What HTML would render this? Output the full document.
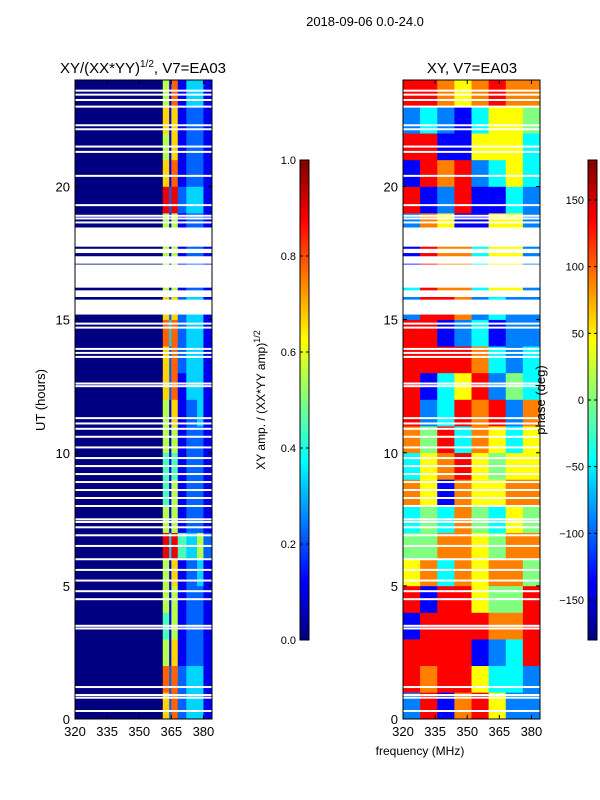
<!DOCTYPE html>
<html><head><meta charset="utf-8"><style>
html,body{margin:0;padding:0;background:#fff;}
svg{display:block;font-family:"Liberation Sans","DejaVu Sans",sans-serif;}
</style></head><body>
<svg id="fig" width="600" height="800" viewBox="0 0 600 800">
<text x="365" y="26" font-size="13" text-anchor="middle">2018-09-06 0.0-24.0</text>
<text x="143" y="73" font-size="15" text-anchor="middle">XY/(XX*YY)<tspan font-size="10" dy="-6">1/2</tspan><tspan dy="6">, V7=EA03</tspan></text>
<text x="472" y="73" font-size="15" text-anchor="middle">XY, V7=EA03</text>
<text transform="translate(45,400) rotate(-90)" font-size="13" text-anchor="middle">UT (hours)</text>
<text x="420" y="755" font-size="12" text-anchor="middle">frequency (MHz)</text>
<text transform="translate(265,400) rotate(-90)" font-size="12" text-anchor="middle">XY amp. / (XX*YY amp)<tspan font-size="9" dy="-5">1/2</tspan></text>
<g id="left"></g>
<g id="right"></g>
<g id="axes"></g>
<text transform="translate(545,400) rotate(-90)" font-size="13" text-anchor="middle">phase (deg)</text>
</svg>
<script>
// ---- data ----
const freqMin = 320, freqMax = 384, hourMin = 0, hourMax = 24;
const xTicks = [320, 335, 350, 365, 380];
const yTicks = [0, 5, 10, 15, 20];
const ampTicks = [0.0, 0.2, 0.4, 0.6, 0.8, 1.0];
const phaseTicks = [-150, -100, -50, 0, 50, 100, 150];
// left panel: non-uniform frequency bins, rows = hours 0..23, codes c -> c/9
const ampEdges = [320, 361, 364, 365, 368, 372, 377, 380, 384];
const ampRows = [
 "06272331","07272331","05161221","04151221","05151221","05161231","08384352","05151221",
 "04151221","04141221","05151221","05161231","06271331","06272331","07372331","06262331",
 "05151221","05151221","05151221","08282331","06171221","05161221","06161221","05171331"];
// right panel: 8 uniform bins, codes 0..8 -> -180..180
const phaseRows = [
 "27167522","76775332","77771237","17777667","71775447","56365664","44665466","34364354",
 "65165566","35675455","64736535","72376726","71357243","77776323","77123122","27762322",
 "37663552","17663552","26511552","71271132","17672353","77115553","23213554","77656766"];
const wideGaps = [[17.74,18.46],[17.5,17.66],[17.1,17.38],[16.2,17.07],[15.85,16.1],[15.19,15.75]];
const thinGaps = [23.6,23.45,23.25,23.0,22.3,22.15,21.5,21.3,20.4,19.3,18.9,18.8,18.65,
 14.85,14.7,13.9,13.75,13.6,12.6,12.5,11.3,11.1,10.9,10.6,10.2,9.8,9.5,9.2,8.9,8.6,8.3,8.0,7.5,7.4,
 7.2,6.9,6.5,6.0,5.6,5.2,4.8,4.5,3.5,3.4,1.2,0.9,0.8,0.3];

// ---- helpers ----
const NS = "http://www.w3.org/2000/svg";
const clamp = v => Math.max(0, Math.min(1, v));
function jet(x){const r=clamp(1.5-Math.abs(4*x-3)),g=clamp(1.5-Math.abs(4*x-2)),b=clamp(1.5-Math.abs(4*x-1));
 return `rgb(${Math.round(r*255)},${Math.round(g*255)},${Math.round(b*255)})`;}
const yTop = 80, yBot = 719;
const yScale = h => yBot - (h - hourMin) / (hourMax - hourMin) * (yBot - yTop);
function xScaleFor(x0, x1){ return f => x0 + (f - freqMin) / (freqMax - freqMin) * (x1 - x0); }
function mk(tag, attrs, parent){const e=document.createElementNS(NS,tag);for(const k in attrs)e.setAttribute(k,attrs[k]);parent.appendChild(e);return e;}

function drawPanel(g, x0, x1, edges, rows, toFrac){
 const xs = xScaleFor(x0, x1);
 rows.forEach((row, hi) => {
  for (let c = 0; c < edges.length - 1; c++){
   const v = toFrac(+row[c]);
   const r = mk('rect', {x: xs(edges[c]), y: yScale(hi+1), width: xs(edges[c+1]) - xs(edges[c]) + 0.3, height: yScale(hi) - yScale(hi+1) + 0.3, fill: jet(v)}, g);
   
   
  }
 });
 wideGaps.forEach(gp => {
  const r = mk('rect', {x: x0, y: yScale(gp[1]), width: x1 - x0, height: yScale(gp[0]) - yScale(gp[1]), fill: '#fff'}, g);
  
  
 });
 thinGaps.forEach(h => {
  const r = mk('rect', {x: x0, y: yScale(h) - 1, width: x1 - x0, height: 2, fill: '#fff'}, g);
  
  
 });
}
const ampEdgesUniform = [320,328,336,344,352,360,368,376,384];
drawPanel(document.getElementById('left'), 75, 212, ampEdges, ampRows, c => c / 9);
drawPanel(document.getElementById('right'), 403, 540, ampEdgesUniform, phaseRows, c => c / 8);

const ax = document.getElementById('axes');
function frame(x0, x1){
 const f = mk('rect', {x: x0, y: yTop, width: x1 - x0, height: yBot - yTop, fill: 'none', stroke: '#000', 'stroke-width': 1}, ax);
 
 
 const xs = xScaleFor(x0, x1);
 xTicks.forEach(t => {
  mk('line', {x1: xs(t), x2: xs(t), y1: yBot, y2: yBot - 4, stroke: '#000'}, ax);
  mk('line', {x1: xs(t), x2: xs(t), y1: yTop, y2: yTop + 4, stroke: '#000'}, ax);
  const tx = mk('text', {x: xs(t), y: yBot + 17, 'font-size': 13, 'text-anchor': 'middle'}, ax);
  tx.textContent = t;
  
  
 });
 yTicks.forEach(t => {
  mk('line', {x1: x0, x2: x0 + 4, y1: yScale(t), y2: yScale(t), stroke: '#000'}, ax);
  mk('line', {x1: x1, x2: x1 - 4, y1: yScale(t), y2: yScale(t), stroke: '#000'}, ax);
  const tx = mk('text', {x: x0 - 5, y: yScale(t) + 5, 'font-size': 13, 'text-anchor': 'end'}, ax);
  tx.textContent = t;
  
  
 });
}
frame(75, 212);
frame(403, 540);

function colorbar(x, ticks, vmin, vmax, fmt, name){
 const top = 160, bot = 640, n = 120;
 for (let i = 0; i < n; i++){
  const r = mk('rect', {x: x, y: bot - (i+1) * (bot-top)/n, width: 9, height: (bot-top)/n + 0.5, fill: jet((i+0.5)/n)}, ax);
  
  
 }
 const f = mk('rect', {x: x, y: top, width: 9, height: bot - top, fill: 'none', stroke: '#000'}, ax);
 
 
 ticks.forEach(t => {
  const y = bot - (t - vmin) / (vmax - vmin) * (bot - top);
  mk('line', {x1: x, x2: x + 3, y1: y, y2: y, stroke: '#000'}, ax);
  mk('line', {x1: x + 9, x2: x + 6, y1: y, y2: y, stroke: '#000'}, ax);
  const tx = mk('text', {x: x - 4, y: y + 4, 'font-size': 11, 'text-anchor': 'end'}, ax);
  tx.textContent = fmt(t);
  
  
 });
}
colorbar(300, ampTicks, 0, 1, t => t.toFixed(1), 'amp-colorbar');
colorbar(588, phaseTicks, -180, 180, t => (t < 0 ? '\u2212' + (-t) : '' + t), 'phase-colorbar');
</script>
</body></html>
